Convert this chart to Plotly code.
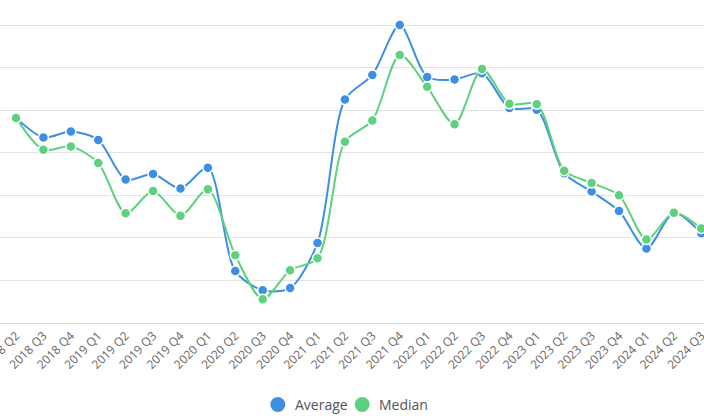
import plotly.graph_objects as go

quarters = ["2018 Q2", "2018 Q3", "2018 Q4",
            "2019 Q1", "2019 Q2", "2019 Q3", "2019 Q4",
            "2020 Q1", "2020 Q2", "2020 Q3", "2020 Q4",
            "2021 Q1", "2021 Q2", "2021 Q3", "2021 Q4",
            "2022 Q1", "2022 Q2", "2022 Q3", "2022 Q4",
            "2023 Q1", "2023 Q2", "2023 Q3", "2023 Q4",
            "2024 Q1", "2024 Q2", "2024 Q3"]

average = [482, 436, 450, 430, 337, 350, 316, 365, 122, 77, 82, 188,
           525, 583, 700, 578, 572, 587, 505, 501, 352, 309, 263, 175,
           259, 211]
median = [482, 407, 415, 376, 258, 310, 252, 314, 159, 56, 124, 152,
          426, 476, 630, 555, 467, 597, 515, 514, 358, 329, 300, 196,
          259, 222]

BLUE = "#3d8fe3"
GREEN = "#5dd17d"
W, H = 704, 416
PLOT_H = 323

series = [("Average", average, BLUE), ("Median", median, GREEN)]

fig = go.Figure()
for name, vals, col in series:
    fig.add_trace(go.Scatter(
        x=list(range(len(quarters))), y=vals, name=name, mode="lines+markers",
        line=dict(color=col, width=2, shape="spline", smoothing=0.8),
        marker=dict(color=col, size=10, line=dict(color="white", width=1.5)),
        cliponaxis=False, showlegend=False,
    ))

# bottom legend: circle + label per series
legend_marker_px = [277.8, 362.2]
legend_text_px = [294.3, 378.3]
legend_y = (PLOT_H - 404.5) / PLOT_H
for (name, _, col), mx, tx in zip(series, legend_marker_px, legend_text_px):
    fig.add_shape(type="circle", xref="paper", yref="paper",
                  xsizemode="pixel", ysizemode="pixel",
                  xanchor=mx / W, yanchor=legend_y,
                  x0=-7.5, x1=7.5, y0=-7.5, y1=7.5,
                  fillcolor=col, line=dict(width=0))
    fig.add_annotation(text=name, xref="paper", yref="paper",
                       x=tx / W, y=legend_y, xanchor="left", yanchor="middle",
                       showarrow=False, borderpad=0,
                       font=dict(family="Open Sans", size=14, color="#555555"))

fig.update_layout(
    width=W, height=H,
    margin=dict(l=0, r=0, t=0, b=H - PLOT_H, autoexpand=False),
    paper_bgcolor="white", plot_bgcolor="white",
    font=dict(family="Open Sans", color="#555"),
    showlegend=False,
    xaxis=dict(
        range=[-0.584, 25.1], tickmode="array",
        tickvals=list(range(len(quarters))), ticktext=quarters,
        tickangle=-45, tickfont=dict(size=12, color="#666666"),
        showgrid=False, showline=True, linecolor="#dddddd", linewidth=1,
        zeroline=False, ticks="", automargin=False, ticklabeloverflow="allow",
    ),
    yaxis=dict(
        range=[0, 759], dtick=100, showticklabels=False,
        showgrid=True, gridcolor="#e3e3e3", gridwidth=1,
        zeroline=False, showline=False, automargin=False,
    ),
)

fig.write_html("out.html", config={"displayModeBar": False},
               post_script="document.body.style.margin='0';document.body.style.overflow='hidden';")
